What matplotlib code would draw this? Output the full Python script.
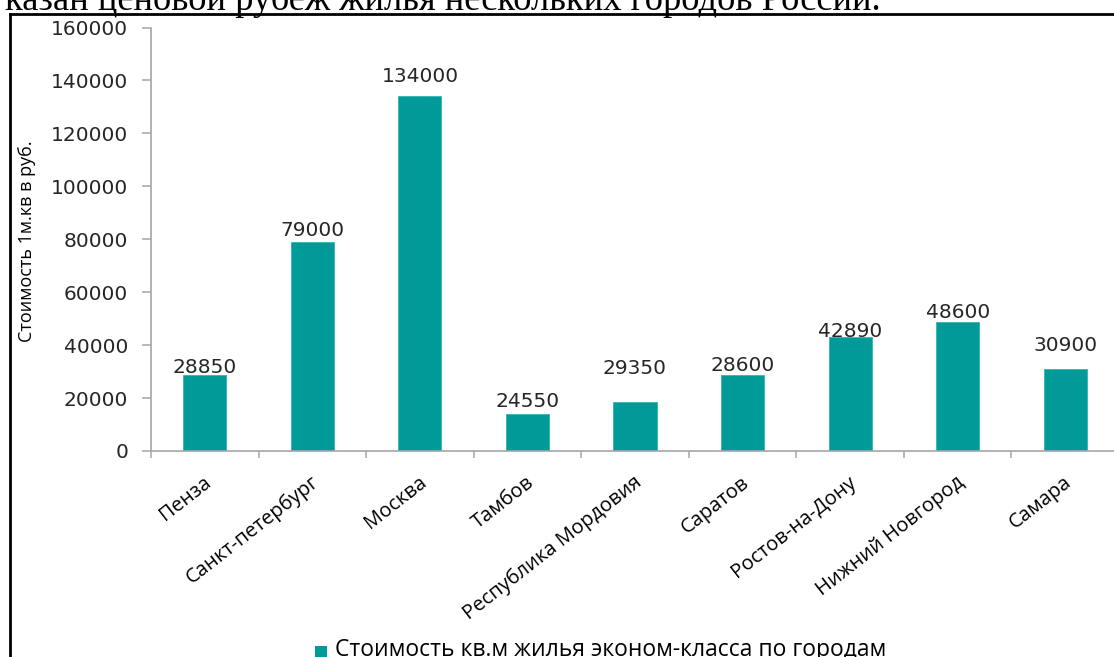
import matplotlib
matplotlib.use("Agg")
import matplotlib.pyplot as plt
from matplotlib.lines import Line2D
from matplotlib.patches import Rectangle

# data
cities = ["Пенза", "Санкт-петербург", "Москва", "Тамбов", "Республика Мордовия",
          "Саратов", "Ростов-на-Дону", "Нижний Новгород", "Самара"]
# printed value labels
price_labels = [28850, 79000, 134000, 24550, 29350, 28600, 42890, 48600, 30900]
# bar heights as drawn in the picture (two bars are drawn lower than their labels)
bar_heights = [28850, 79000, 134000, 14000, 18500, 28600, 42890, 48600, 30900]
# gap (pixels) between each bar top and the baseline of its value label
label_gaps = [2, 6, 14, 7, 28, 4, 0, 4.5, 18.5]
y_ticks = [0, 20000, 40000, 60000, 80000, 100000, 120000, 140000, 160000]

TEAL = "#009B98"
GREY = "#A6A6A6"
TXT = "#262626"

fig = plt.figure(figsize=(11.14, 6.57), dpi=100)
W, H = 1114, 657
PX = 72 / 100  # points per pixel

# cropped heading line from the document above the chart
fig.text(5 / W, 1 - 9.5 / H, "казан ценовой рубеж жилья нескольких городов России.",
         family="Liberation Serif", fontsize=26.3, va="baseline", ha="left", color="black")
# chart frame (top and left edges visible)
fig.add_artist(Line2D([10 / W, 1.0], [1 - 13.5 / H, 1 - 13.5 / H], transform=fig.transFigure,
                      color="black", lw=2))
fig.add_artist(Line2D([10 / W, 10 / W], [1 - 13.5 / H, 0], transform=fig.transFigure,
                      color="black", lw=2))

ax = fig.add_axes([151 / W, 1 - 451 / H, 968 / W, (451 - 27.5) / H])
ax.set_facecolor("none")
xs = list(range(len(cities)))
ax.bar(xs, bar_heights, width=0.4, color=TEAL, edgecolor="#33B5B2", linewidth=0.6)
ax.set_xlim(-0.5, len(cities) - 0.5)
ax.set_ylim(0, 160000)

for x, h, lab, g in zip(xs, bar_heights, price_labels, label_gaps):
    ax.annotate(str(lab), xy=(x, h), xytext=(0, g * PX), textcoords="offset points",
                ha="center", va="baseline", family="DejaVu Sans", fontsize=14.5, color=TXT)

for side in ["top", "right"]:
    ax.spines[side].set_visible(False)
for side in ["left", "bottom"]:
    ax.spines[side].set_color(GREY)
    ax.spines[side].set_linewidth(1.2)

ax.set_yticks(y_ticks)
ax.set_yticklabels([str(t) for t in y_ticks], family="DejaVu Sans", fontsize=14.5, color=TXT)
ax.tick_params(axis="y", direction="out", length=6.5, width=1.1, color=GREY, pad=10)
ax.set_xticks([x - 0.5 for x in xs] + [len(cities) - 0.5])
ax.set_xticklabels([])
ax.tick_params(axis="x", direction="out", length=5, width=1.1, color=GREY)

for x, name in zip(xs, cities):
    ax.annotate(name, xy=(x, 0), xycoords=("data", "axes fraction"),
                xytext=(3, -21), textcoords="offset points",
                rotation=38, rotation_mode="anchor", ha="right", va="center",
                family="Open Sans", fontsize=14.5, color="black")

fig.text(27 / W, 1 - 241 / H, "Стоимость 1м.кв в руб.", rotation=90,
         family="Open Sans", fontsize=13, ha="center", va="center", color="black")

# legend
fig.add_artist(Rectangle((315 / W, 0), 12 / W, 11 / H, transform=fig.transFigure,
                         facecolor=TEAL, edgecolor="none"))
fig.text(335 / W, 1.5 / H, "Стоимость кв.м жилья эконом-класса по городам",
         family="Open Sans", fontsize=16.5, ha="left", va="baseline", color="black")

fig.savefig("out.png", dpi=100, facecolor="white")
